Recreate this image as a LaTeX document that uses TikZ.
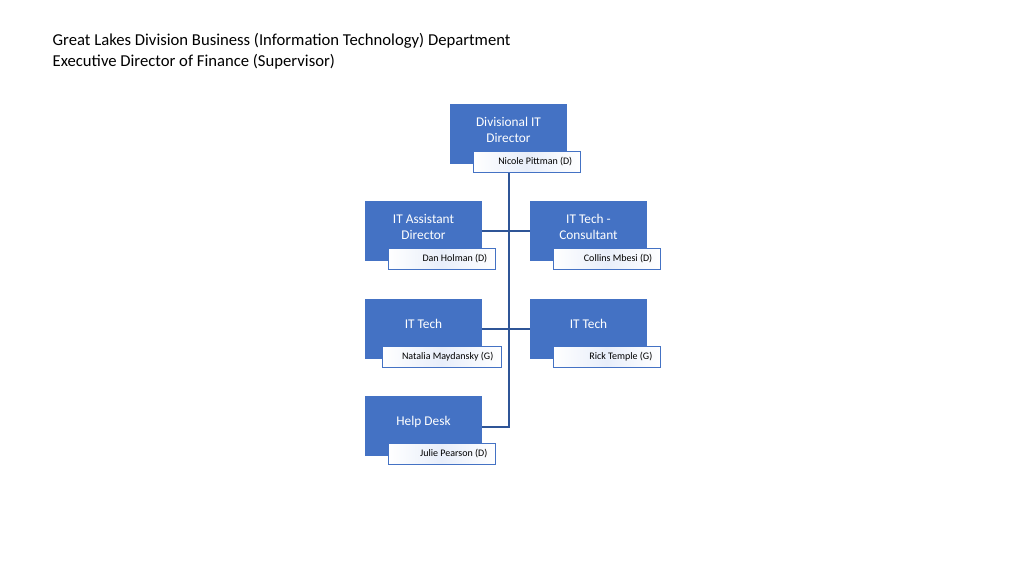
\documentclass[tikz,border=0pt]{standalone}
\usepackage{fontspec}
\setmainfont{Carlito}
\begin{document}
\begin{tikzpicture}[x=0.75pt,y=-0.75pt,
  role/.style={draw=none,fill={rgb,255:red,68;green,114;blue,196},text=white,font=\fontsize{10}{12}\selectfont,align=center,inner sep=0pt},
  who/.style={draw={rgb,255:red,68;green,114;blue,196},left color=white,right color=white,middle color={rgb,255:red,232;green,238;blue,250},text=black,font=\fontsize{7.5}{9}\selectfont,inner sep=0pt,line width=0.6pt},
  link/.style={draw={rgb,255:red,47;green,85;blue,151},line width=0.9pt}]
\useasboundingbox (0,0) rectangle (1024,576);
\node[anchor=west,font=\fontsize{12.5}{15}\selectfont] (t1) at (48,41) {Great Lakes Division Business (Information Technology) Department};
\node[anchor=west,font=\fontsize{12.5}{15}\selectfont] (t2) at (48,62) {Executive Director of Finance (Supervisor)};
\newcommand{\orgbox}[8]{%
  \path[role] (#2,#3) rectangle (#2+117,#3+60);
  \node[role] (#1) at (#2+58.5,#3+#8) {#4};
  \path[who] (#5,#3+47) rectangle (#6,#3+68);
  \node[anchor=east,font=\fontsize{7.5}{9}\selectfont] (#1n) at (#6-3,#3+57.5) {#7};}
\draw[link] (509,172) -- (509,427) -- (482,427);
\draw[link] (482,231) -- (530,231);
\draw[link] (482,329) -- (530,329);
\orgbox{a}{450}{104}{Divisional IT\\Director}{473}{580}{Nicole Pittman (D)}{26}
\orgbox{b}{365}{201}{IT Assistant\\Director}{388}{495}{Dan Holman (D)}{26}
\orgbox{c}{530}{201}{IT Tech -\\Consultant}{553}{660}{Collins Mbesi (D)}{26}
\orgbox{d}{365}{299}{IT Tech}{382}{501}{Natalia Maydansky (G)}{25}
\orgbox{e}{530}{299}{IT Tech}{553}{660}{Rick Temple (G)}{25}
\orgbox{f}{365}{396}{Help Desk}{388}{495}{Julie Pearson (D)}{26}
\end{tikzpicture}
\end{document}
